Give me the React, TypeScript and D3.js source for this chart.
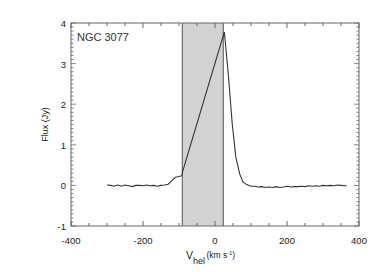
import { useEffect, useRef } from 'react'
import * as d3 from 'd3'

// HI profile: velocity (km/s) and flux (Jy)
const velocity = [
  -300, -290, -280, -270, -260, -250, -240, -230, -220, -210, -200, -190, -180, -170,
  -160, -150, -140, -130, -120, -110, -100, -92, -90, -30, 26, 37, 48, 58, 69, 78, 88,
  100, 110, 120, 130, 140, 150, 160, 170, 180, 190, 200, 210, 220, 230, 240, 250, 260,
  270, 280, 290, 300, 310, 320, 330, 340, 350, 360, 365,
]
const flux = [
  0.01, 0.0, -0.02, 0.01, -0.02, 0.01, -0.01, -0.03, 0.0, 0.0, -0.01, 0.01, -0.01, 0.0,
  -0.02, 0.0, 0.01, 0.03, 0.12, 0.2, 0.22, 0.24, 0.34, 2.12, 3.78, 2.73, 1.5, 0.69, 0.27, 0.08, 0.02,
  -0.02, -0.02, -0.04, -0.03, -0.05, -0.04, -0.05, -0.03, -0.05, -0.04, -0.02, -0.04, -0.03, -0.03,
  -0.02, -0.03, -0.01, -0.02, -0.01, -0.02, 0.0, -0.01, 0.0, -0.01, 0.01, 0.0, -0.01, 0.0,
]

const window = [-91, 23] // shaded velocity range
const xTickLabels = [-400, -200, 0, 200, 400]
const yTickLabels = [-1, 0, 1, 2, 3, 4]

export default function App() {
  const ref = useRef<SVGSVGElement>(null)

  useEffect(() => {
    if (!ref.current) return
    const svg = d3.select(ref.current)
    svg.selectAll('*').remove()

    const width = 381
    const height = 272
    const margin = { top: 23, right: 22, bottom: 46, left: 71 }
    const iw = width - margin.left - margin.right
    const ih = height - margin.top - margin.bottom
    const axisColor = '#666'
    const textColor = '#1a1a1a'
    const font = 'Liberation Sans, Arial, sans-serif'

    svg.attr('width', width).attr('height', height)
      .style('font-family', font)

    const g = svg.append('g').attr('transform', `translate(${margin.left},${margin.top})`)

    const x = d3.scaleLinear().domain([-400, 400]).range([0, iw])
    const y = d3.scaleLinear().domain([-1, 4]).range([ih, 0])

    // shaded integration window
    g.append('rect')
      .attr('x', x(window[0])).attr('y', 0)
      .attr('width', x(window[1]) - x(window[0]))
      .attr('height', ih)
      .attr('fill', '#d2d2d2')
    window.forEach(v => {
      g.append('line')
        .attr('x1', x(v)).attr('x2', x(v))
        .attr('y1', 0).attr('y2', ih)
        .attr('stroke', '#555').attr('stroke-width', 1)
    })

    // spectrum
    const pts = velocity.map((v, i) => [v, flux[i]] as [number, number])
    g.append('path')
      .datum(pts)
      .attr('d', d3.line<[number, number]>().x(d => x(d[0])).y(d => y(d[1])))
      .attr('fill', 'none')
      .attr('stroke', '#333')
      .attr('stroke-width', 1.1)

    // frame
    g.append('rect')
      .attr('x', 0).attr('y', 0).attr('width', iw).attr('height', ih)
      .attr('fill', 'none').attr('stroke', axisColor).attr('stroke-width', 1)

    // x ticks (inward, top and bottom)
    d3.range(-400, 401, 50).forEach(v => {
      const len = v % 200 === 0 ? 5 : 3
      g.append('line').attr('x1', x(v)).attr('x2', x(v)).attr('y1', ih).attr('y2', ih - len)
        .attr('stroke', axisColor)
      g.append('line').attr('x1', x(v)).attr('x2', x(v)).attr('y1', 0).attr('y2', len)
        .attr('stroke', axisColor)
    })
    xTickLabels.forEach(v => {
      g.append('text')
        .attr('x', x(v)).attr('y', ih + 18)
        .attr('text-anchor', 'middle')
        .attr('font-size', '9.5px').attr('fill', textColor)
        .text(v)
    })

    // y ticks (inward, left and right)
    d3.range(-10, 41, 1).forEach(k => {
      const v = k / 10
      const len = k % 10 === 0 ? 5 : 2.5
      g.append('line').attr('x1', 0).attr('x2', len).attr('y1', y(v)).attr('y2', y(v))
        .attr('stroke', axisColor).attr('stroke-width', 0.8)
      g.append('line').attr('x1', iw).attr('x2', iw - len).attr('y1', y(v)).attr('y2', y(v))
        .attr('stroke', axisColor).attr('stroke-width', 0.8)
    })
    yTickLabels.forEach(v => {
      g.append('text')
        .attr('x', -5).attr('y', y(v) + 4)
        .attr('text-anchor', 'end')
        .attr('font-size', '9.5px').attr('fill', textColor)
        .text(v)
    })

    // annotation
    g.append('text')
      .attr('x', 6).attr('y', 18)
      .attr('font-size', '11px').attr('fill', '#333')
      .text('NGC  3077')

    // y label
    g.append('text')
      .attr('transform', `translate(${45 - margin.left},${ih / 2}) rotate(-90)`)
      .attr('text-anchor', 'middle')
      .attr('dy', '0.35em')
      .attr('font-size', '9px').attr('fill', textColor)
      .text('Flux (Jy)')

    // x label: V_hel (km s^-1)
    const xl = svg.append('text').attr('fill', textColor).attr('x', 186).attr('y', 259)
    xl.append('tspan').attr('font-size', '10.5px').text('V')
    xl.append('tspan').attr('font-size', '9px').attr('dy', 5).text('hel')
    xl.append('tspan').attr('font-size', '8.5px').attr('dx', 1.5).attr('dy', -6).text('(km s')
    xl.append('tspan').attr('font-size', '5.5px').attr('dy', -3.5).text('-1')
    xl.append('tspan').attr('font-size', '8.5px').attr('dy', 3.5).text(')')
  }, [])

  return (
    <div style={{ position: 'absolute', left: 0, top: 0, background: '#fff' }}>
      <svg ref={ref} style={{ display: 'block' }} />
    </div>
  )
}
